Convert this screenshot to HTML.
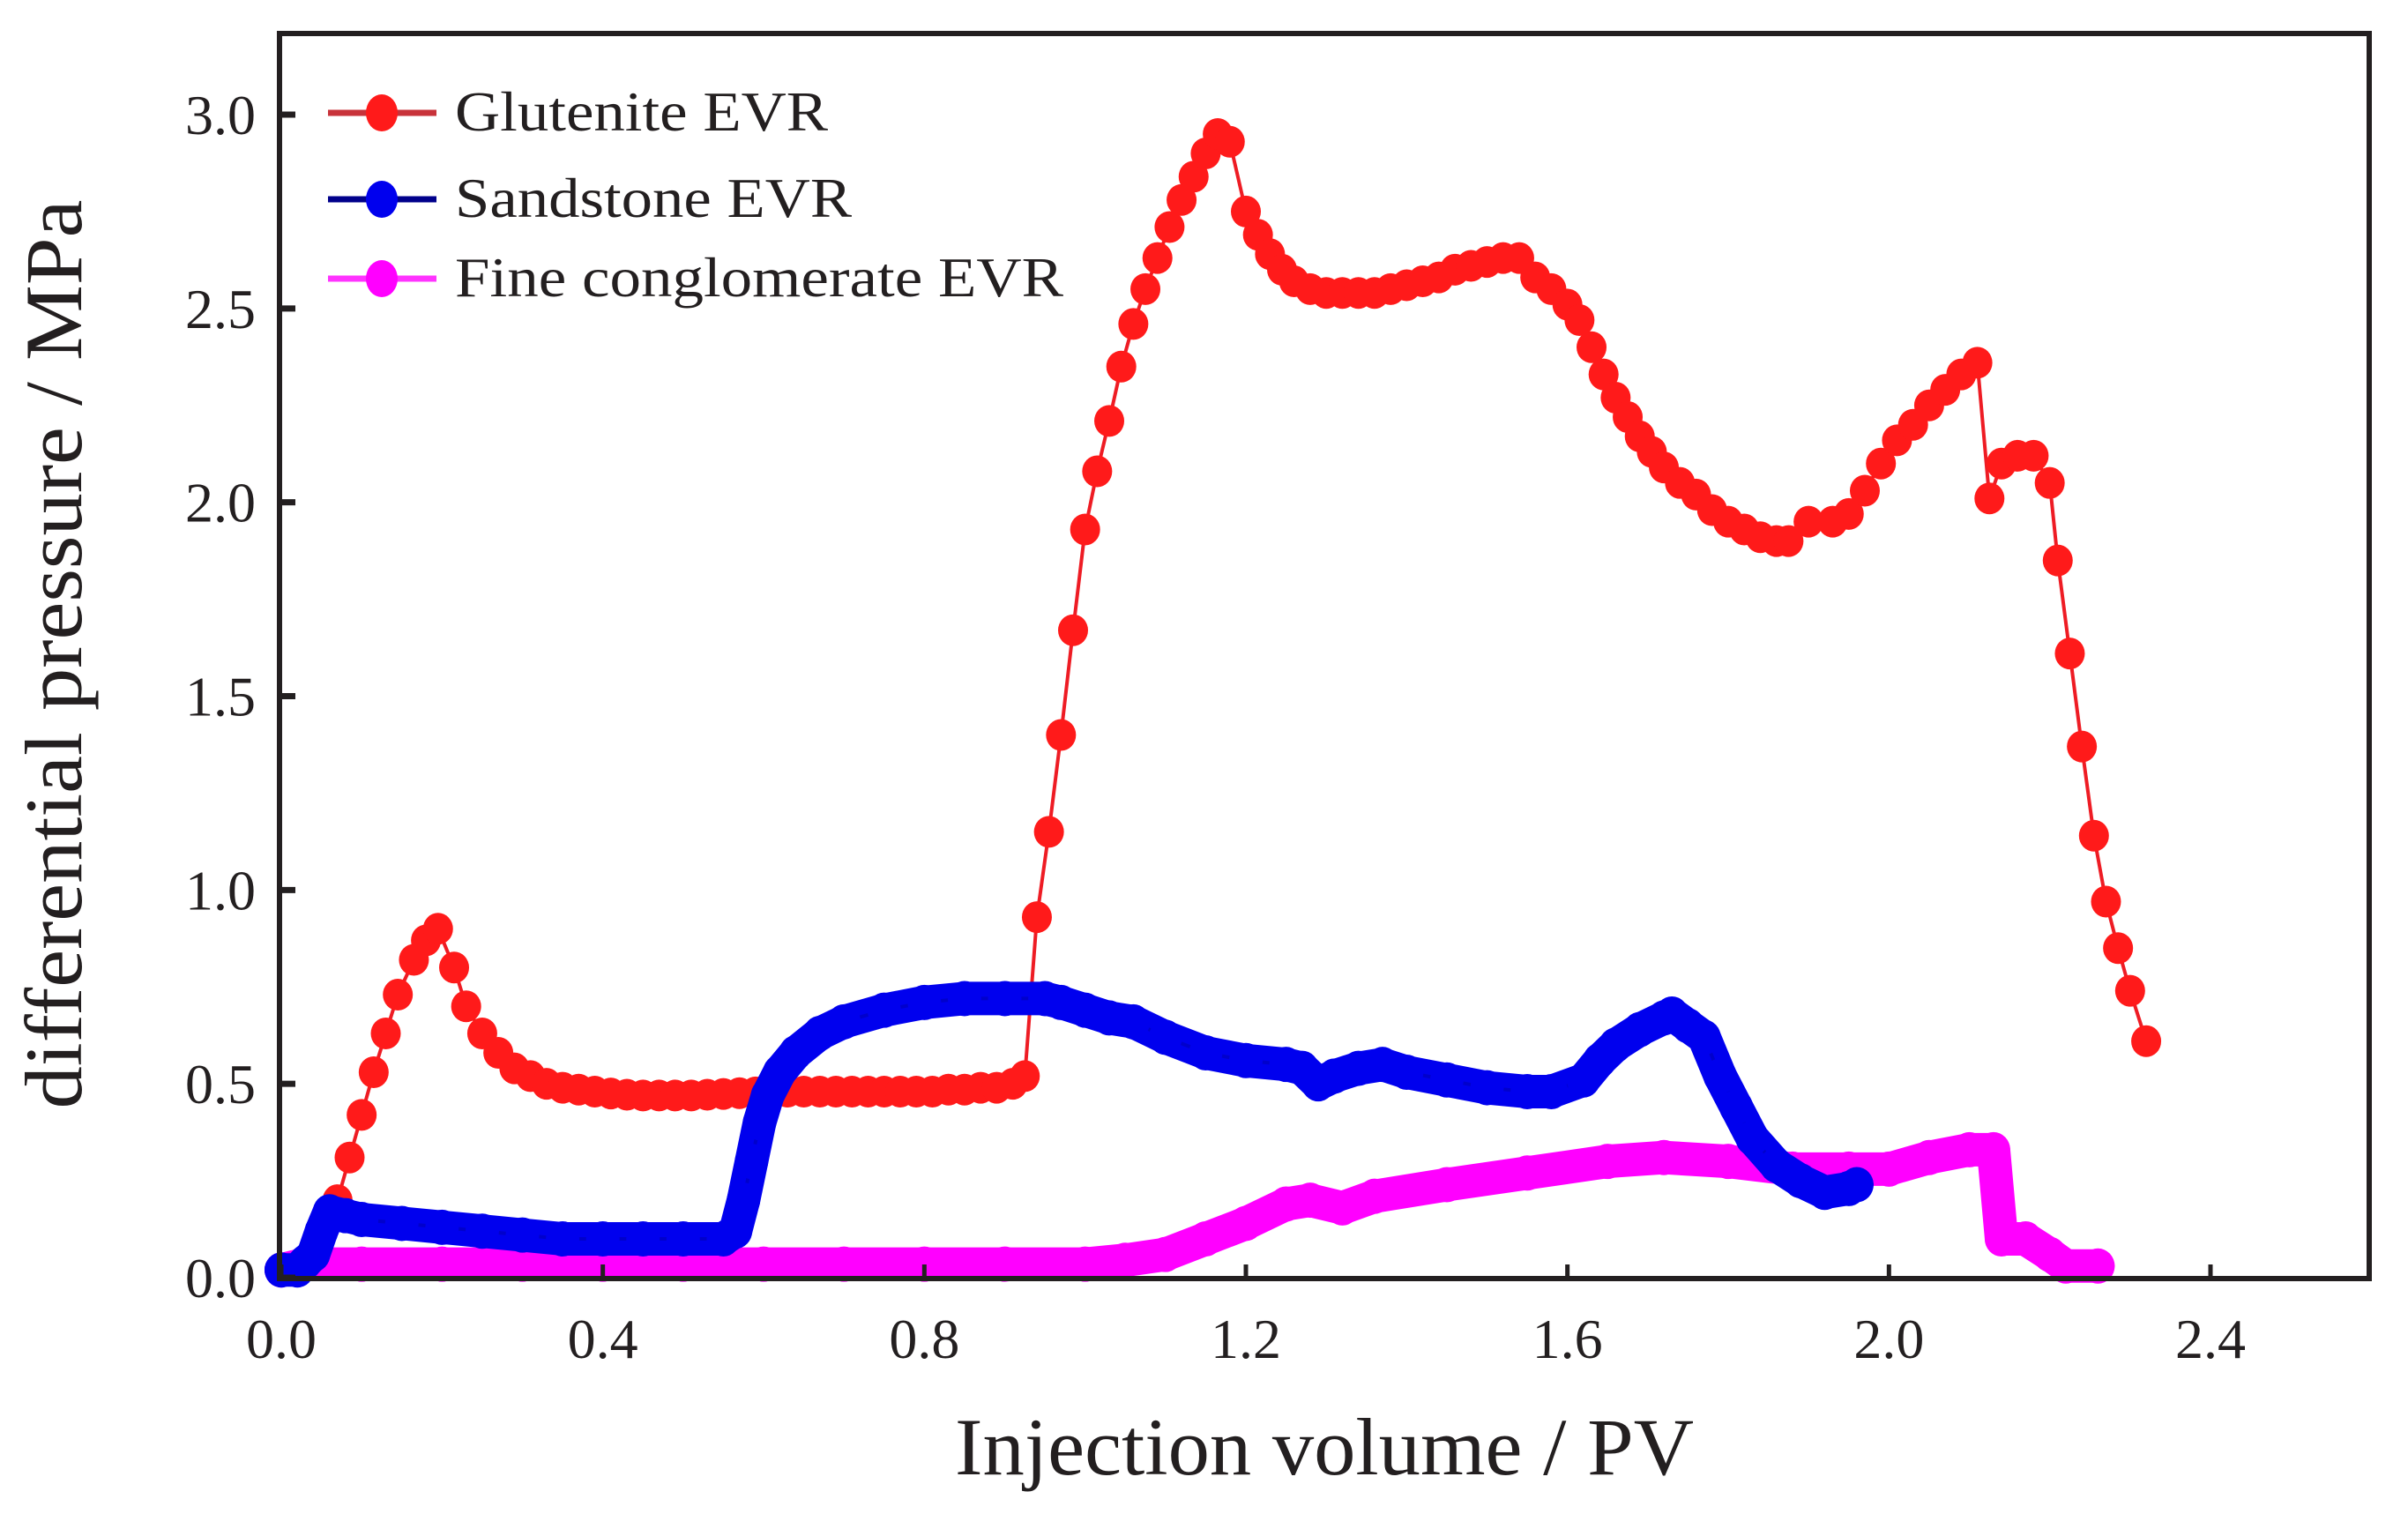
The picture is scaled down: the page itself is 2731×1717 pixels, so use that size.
<!DOCTYPE html>
<html><head><meta charset="utf-8"><style>
html,body{margin:0;padding:0;background:#fff;}
svg{display:block;font-family:"Liberation Serif",serif;}
</style></head><body>
<svg id="chart" width="2731" height="1717" viewBox="0 0 2731 1717" xmlns="http://www.w3.org/2000/svg">
<rect x="0" y="0" width="2731" height="1717" fill="#fff"/>
<g id="series"></g>
<g id="axes"></g>
<g id="legend"></g>
<text x="1502" y="1672" font-size="92" text-anchor="middle" textLength="838" lengthAdjust="spacingAndGlyphs" fill="#231f20">Injection volume / PV</text>
<text transform="translate(92,742) rotate(-90)" x="0" y="0" font-size="92" text-anchor="middle" textLength="1031" lengthAdjust="spacingAndGlyphs" fill="#231f20">differential pressure / MPa</text>
</svg>
<script>
const xTicks=[0.0,0.4,0.8,1.2,1.6,2.0,2.4];
const xTickLabels=["0.0","0.4","0.8","1.2","1.6","2.0","2.4"];
const yTicks=[0,0.5,1.0,1.5,2.0,2.5,3.0];
const yTickLabels=["0.0","0.5","1.0","1.5","2.0","2.5","3.0"];
const seriesNames=["Glutenite EVR","Sandstone EVR","Fine conglomerate EVR"];

const glutX=[0.07,0.085,0.1,0.115,0.13,0.145,0.165,0.18,0.195,0.215,0.23,0.25,0.27,0.29,0.31,0.33,0.35,0.37,0.39,0.41,0.43,0.45,0.47,0.49,0.51,0.53,0.55,0.57,0.59,0.61,0.63,0.65,0.67,0.69,0.71,0.73,0.75,0.77,0.79,0.81,0.83,0.85,0.87,0.89,0.91,0.925,0.94,0.955,0.97,0.985,1.0,1.015,1.03,1.045,1.06,1.075,1.09,1.105,1.12,1.135,1.15,1.165,1.18,1.2,1.215,1.23,1.245,1.26,1.28,1.3,1.32,1.34,1.36,1.38,1.4,1.42,1.44,1.46,1.48,1.5,1.52,1.54,1.56,1.58,1.6,1.615,1.63,1.645,1.66,1.675,1.69,1.705,1.72,1.74,1.76,1.78,1.8,1.82,1.84,1.86,1.875,1.9,1.93,1.95,1.97,1.99,2.01,2.03,2.05,2.07,2.09,2.11,2.125,2.14,2.16,2.18,2.2,2.21,2.225,2.24,2.255,2.27,2.285,2.3,2.32];
const glutY=[0.2,0.31,0.42,0.53,0.63,0.73,0.82,0.87,0.9,0.8,0.7,0.63,0.58,0.54,0.52,0.5,0.49,0.485,0.48,0.475,0.472,0.47,0.47,0.47,0.47,0.472,0.474,0.476,0.478,0.48,0.48,0.48,0.48,0.48,0.48,0.48,0.48,0.48,0.48,0.48,0.485,0.485,0.49,0.49,0.5,0.52,0.93,1.15,1.4,1.67,1.93,2.08,2.21,2.35,2.46,2.55,2.63,2.71,2.78,2.84,2.9,2.95,2.93,2.75,2.69,2.64,2.6,2.57,2.55,2.54,2.54,2.54,2.54,2.55,2.56,2.57,2.58,2.6,2.61,2.62,2.63,2.63,2.58,2.55,2.51,2.47,2.4,2.33,2.27,2.22,2.17,2.13,2.09,2.05,2.02,1.98,1.95,1.93,1.91,1.9,1.9,1.95,1.95,1.97,2.03,2.1,2.16,2.2,2.25,2.29,2.33,2.36,2.01,2.1,2.12,2.12,2.05,1.85,1.61,1.37,1.14,0.97,0.85,0.74,0.61];

const sandX=[0.0,0.02,0.03,0.04,0.05,0.06,0.08,0.1,0.15,0.2,0.25,0.3,0.35,0.4,0.45,0.5,0.55,0.565,0.575,0.585,0.595,0.605,0.62,0.64,0.67,0.7,0.75,0.8,0.85,0.9,0.95,0.97,1.0,1.03,1.06,1.1,1.15,1.2,1.25,1.27,1.29,1.31,1.34,1.37,1.4,1.45,1.5,1.55,1.58,1.62,1.64,1.66,1.69,1.72,1.73,1.75,1.77,1.79,1.81,1.83,1.86,1.89,1.92,1.95,1.96];
const sandY=[0.02,0.02,0.04,0.06,0.12,0.17,0.16,0.15,0.14,0.13,0.12,0.11,0.1,0.1,0.1,0.1,0.1,0.12,0.2,0.3,0.4,0.47,0.53,0.58,0.63,0.66,0.69,0.71,0.72,0.72,0.72,0.71,0.69,0.67,0.66,0.62,0.58,0.56,0.55,0.54,0.5,0.52,0.54,0.55,0.53,0.51,0.49,0.48,0.48,0.51,0.56,0.6,0.64,0.67,0.68,0.65,0.62,0.52,0.44,0.36,0.29,0.25,0.22,0.23,0.24];

const fineX=[0.0,0.03,0.1,0.2,0.3,0.4,0.5,0.6,0.7,0.8,0.9,1.0,1.05,1.1,1.15,1.2,1.25,1.28,1.32,1.36,1.45,1.55,1.65,1.72,1.8,1.88,1.95,2.0,2.05,2.1,2.13,2.14,2.17,2.2,2.22,2.26];
const fineY=[0.02,0.035,0.035,0.035,0.035,0.035,0.035,0.035,0.035,0.035,0.035,0.035,0.045,0.06,0.1,0.14,0.19,0.2,0.18,0.21,0.24,0.27,0.3,0.31,0.3,0.28,0.28,0.28,0.31,0.33,0.33,0.1,0.1,0.06,0.03,0.03];

const NS="http://www.w3.org/2000/svg";
const L=317,R=2687,T=38,B=1450;
const X0=319,XPU=(2507-319)/2.4;
const Y0=1449,YPU=(1449-130)/3.0;
function sx(v){return X0+v*XPU;}
function sy(v){return Y0-v*YPU;}
function mk(tag,attrs,parent){const e=document.createElementNS(NS,tag);for(const k in attrs)e.setAttribute(k,attrs[k]);parent.appendChild(e);return e;}

const sg=document.getElementById('series');
function drawSeries(xs,ys,color,lineColor,r,band,name){
  const g=mk('g',{},sg);
  
  
  const pts=xs.map((x,i)=>sx(x).toFixed(1)+','+sy(ys[i]).toFixed(1)).join(' ');
  if(band){
    const b=mk('polyline',{points:pts,fill:'none',stroke:color,'stroke-width':2*r,'stroke-linejoin':'round','stroke-linecap':'round'},g);
    
    
  }
  const ln=mk('polyline',{points:pts,fill:'none',stroke:lineColor,'stroke-width':4},g);
  
  
  xs.forEach((x,i)=>{
    const c=mk('ellipse',{cx:sx(x),cy:sy(ys[i]),rx:r,ry:r+1,fill:color},g);
    
    
  });
}
drawSeries(glutX,glutY,'#ff1a1a','#ee1c24',17,false,'glutenite');
drawSeries(fineX,fineY,'#ff00ff','#ff00ff',19,true,'fine-conglomerate');
drawSeries(sandX,sandY,'#0000ee','#0000cc',19,true,'sandstone');

const ax=document.getElementById('axes');
const frame=mk('rect',{x:L,y:T,width:R-L,height:B-T,fill:'none',stroke:'#231f20','stroke-width':6},ax);


xTicks.forEach((v,i)=>{
  const t=mk('line',{x1:sx(v),x2:sx(v),y1:B,y2:B-16,stroke:'#231f20','stroke-width':5},ax);
  
  
  const tx=mk('text',{x:sx(v),y:1540,'font-size':64,'text-anchor':'middle',fill:'#231f20'},ax);
  tx.textContent=xTickLabels[i];
  
  
});
yTicks.forEach((v,i)=>{
  const t=mk('line',{x1:L,x2:L+18,y1:sy(v),y2:sy(v),stroke:'#231f20','stroke-width':7},ax);
  
  
  const tx=mk('text',{x:290,y:sy(v)+22,'font-size':64,'text-anchor':'end',fill:'#231f20'},ax);
  tx.textContent=yTickLabels[i];
  
  
});

const lg=document.getElementById('legend');
const legColors=[['#ff1a1a','#c8323a'],['#0000ee','#00008b'],['#ff00ff','#ff33ff']];
const legY=[128,226,316];
const legW=[423,450,690];
seriesNames.forEach((n,i)=>{
  const g=mk('g',{},lg);
  
  
  mk('line',{x1:372,x2:495,y1:legY[i],y2:legY[i],stroke:legColors[i][1],'stroke-width':7},g);
  mk('ellipse',{cx:433,cy:legY[i],rx:18,ry:21,fill:legColors[i][0]},g);
  const t=mk('text',{x:516,y:legY[i]+20,'font-size':64,fill:'#231f20',textLength:legW[i],lengthAdjust:'spacingAndGlyphs'},g);
  t.textContent=n;
  
  
});
</script>
</body></html>
